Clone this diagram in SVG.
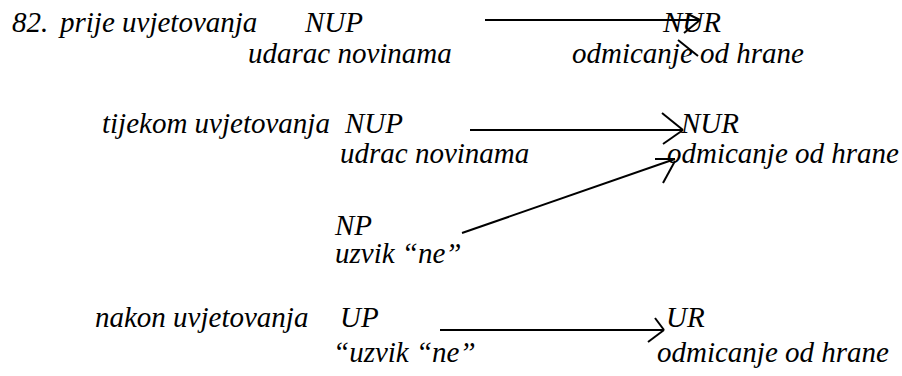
<svg xmlns="http://www.w3.org/2000/svg" width="902" height="376" viewBox="0 0 902 376">
<style>
text{font-family:"Liberation Serif","Times New Roman",serif;font-style:italic;font-size:29px;fill:#000}
.c line{stroke:#000;stroke-width:2;fill:none}
</style>
<rect width="902" height="376" fill="#fff"/>
<g id="row1-label"><text x="12" y="32">82.</text><text x="60" y="32">prije uvjetovanja</text></g>
<g id="nup1"><text x="305" y="32">NUP</text><text x="248" y="63">udarac novinama</text></g>
<g id="nur1"><text x="663" y="32">NUR</text><text x="572" y="63">odmicanje od hrane</text></g>
<g id="row2-label"><text x="102" y="133">tijekom uvjetovanja</text></g>
<g id="nup2"><text x="345" y="133">NUP</text><text x="340" y="163">udrac novinama</text></g>
<g id="nur2"><text x="681" y="133">NUR</text><text x="667" y="163">odmicanje od hrane</text></g>
<g id="np"><text x="335" y="235">NP</text><text x="335" y="263">uzvik “ne”</text></g>
<g id="row3-label"><text x="95" y="327">nakon uvjetovanja</text></g>
<g id="up"><text x="340" y="327">UP</text><text x="333" y="362">“uzvik “ne”</text></g>
<g id="ur"><text x="666" y="327">UR</text><text x="657" y="362">odmicanje od hrane</text></g>
<g id="connectors" class="c">
<line x1="485" y1="20" x2="700" y2="20"/>
<line x1="688" y1="14" x2="700" y2="20"/>
<line x1="684" y1="33" x2="700" y2="20"/>
<line x1="678" y1="40" x2="698" y2="56"/>
<line x1="470" y1="130" x2="683" y2="130"/>
<line x1="662" y1="113" x2="683" y2="130"/>
<line x1="663" y1="144" x2="683" y2="130"/>
<line x1="462" y1="233" x2="675" y2="159"/>
<line x1="655" y1="159" x2="675" y2="159"/>
<line x1="663" y1="183" x2="675" y2="161"/>
<line x1="440" y1="330" x2="664" y2="330"/>
<line x1="655" y1="318" x2="664" y2="330"/>
<line x1="648" y1="342" x2="664" y2="330"/>
</g>
</svg>
